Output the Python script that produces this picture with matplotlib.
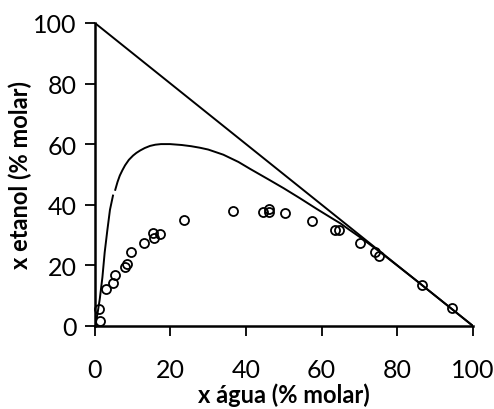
import matplotlib
matplotlib.use("Agg")
import matplotlib.pyplot as plt

plt.rcParams["font.family"] = ["Lato", "DejaVu Sans"]

# experimental points (x agua, x etanol) in % molar
agua_exp = [1.3, 1.1, 2.9, 4.7, 5.3, 7.9, 8.4, 9.5, 13.0, 15.4, 15.6, 17.2,
            23.5, 36.5, 44.4, 46.0, 46.2, 50.3, 57.5, 63.5, 64.7, 70.2,
            74.1, 75.2, 86.5, 94.4]
etanol_exp = [1.7, 5.5, 12.3, 14.0, 16.9, 19.5, 20.4, 24.2, 27.5, 30.5, 28.9, 30.3,
              35.0, 38.0, 37.7, 38.5, 37.5, 37.1, 34.5, 31.6, 31.6, 27.3,
              24.5, 23.1, 13.4, 5.8]

# calculated binodal curve, lower and upper branch
agua_low = [0.2, 0.7, 1.3, 2.0, 2.6, 3.3, 4.0, 4.8]
etanol_low = [0.5, 4.0, 8.8, 16.0, 24.2, 31.5, 38.3, 43.0]
agua_up = [5.4, 6.0, 6.6, 7.3, 8.0, 9.0, 10.1, 11.0, 12.0, 13.2, 14.6, 16.0, 17.5,
           19.9, 23.0, 25.5, 27.8, 30.0, 34.0, 38.0, 41.1, 46.0, 50.0, 54.3, 58.7,
           63.0, 65.0, 67.0, 70.0, 72.5, 75.0, 80.0, 85.0, 90.0, 95.0, 100.0]
etanol_up = [44.9, 47.5, 49.6, 51.4, 53.0, 54.8, 56.2, 57.1, 57.9, 58.7, 59.4, 59.8, 60.0,
             60.0, 59.7, 59.3, 58.8, 58.2, 56.5, 54.1, 51.8, 48.3, 45.4, 42.1, 38.6,
             35.3, 33.8, 32.0, 29.4, 27.1, 24.8, 19.9, 15.0, 10.0, 5.0, 0.0]

# triangle side
agua_lim = [0, 100]
etanol_lim = [100, 0]

fig = plt.figure(figsize=(4.94, 4.10), dpi=100)
ax = fig.add_axes([0.192, 0.203, 0.765, 0.7385])

ax.plot(agua_lim, etanol_lim, color="black", lw=1.4)
ax.plot(agua_low, etanol_low, color="black", lw=1.4)
ax.plot(agua_up, etanol_up, color="black", lw=1.4)
ax.plot(agua_exp, etanol_exp, "o", mfc="none", mec="black", mew=1.3, ms=6.5,
        clip_on=False)

ax.set_xlim(0, 100)
ax.set_ylim(0, 100)
ax.set_xticks(range(0, 101, 20))
ax.set_yticks(range(0, 101, 20))
ax.spines["top"].set_visible(False)
ax.spines["right"].set_visible(False)
ax.spines["left"].set_linewidth(1.8)
ax.spines["bottom"].set_linewidth(1.8)
ax.tick_params(direction="out", length=7, width=1.3, labelsize=18)
ax.tick_params(axis="x", pad=16)
ax.tick_params(axis="y", pad=6)

ax.set_xlabel("x água (% molar)", fontsize=17, fontweight="bold", labelpad=1)
ax.set_ylabel("x etanol (% molar)", fontsize=17, fontweight="bold", labelpad=1)

fig.savefig("out.png", dpi=100)
